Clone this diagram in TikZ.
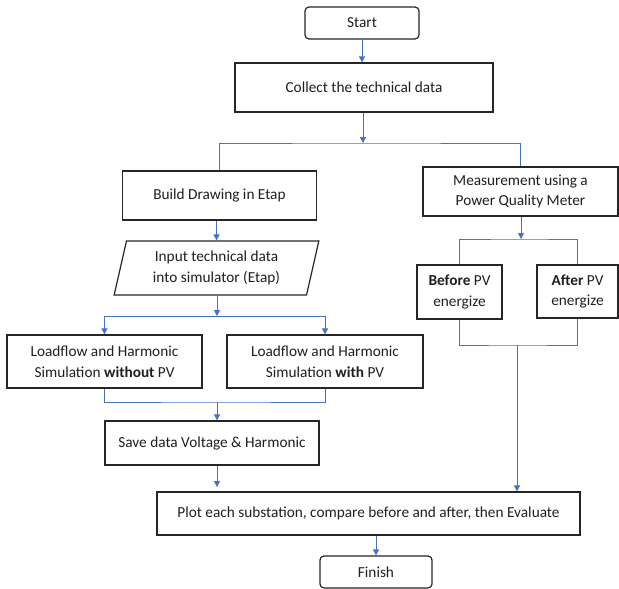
\documentclass[tikz,border=0pt]{standalone}
\usepackage{fontspec}
\setmainfont{Carlito}
\usetikzlibrary{arrows.meta,shapes.geometric}
\definecolor{lineblue}{HTML}{4472C4}
\definecolor{brd}{HTML}{262626}
\begin{document}
\begin{tikzpicture}[x=1pt,y=-1pt,
  box/.style={draw=brd,line width=1.2pt,inner sep=0pt,align=center,font=\fontsize{15.3}{20.5}\selectfont,text=black!88},
  rbox/.style={box,rounded corners=4pt},
  link/.style={draw=lineblue,line width=0.75pt},
  arr/.style={link,-{Triangle[width=6pt,length=6pt]}}]
\useasboundingbox[fill=white] (0,0) rectangle (619,589);
% nodes
\node[rbox,minimum width=114pt,minimum height=32pt] (start) at (362,23) {Start};
\node[box,minimum width=258pt,minimum height=49pt] (collect) at (364,87.5) {Collect the technical data};
\node[box,minimum width=194pt,minimum height=49pt] (build) at (219.5,195.5) {Build Drawing in Etap};
\node[box,minimum width=195pt,minimum height=49pt] (meas) at (520.5,191.5) {Measurement using a\\Power Quality Meter};
\node[box,trapezium,trapezium left angle=75.5,trapezium right angle=104.5,trapezium stretches=true,minimum width=205pt,minimum height=54pt] (input) at (216.5,268) {Input technical data\\into simulator (Etap)};
\node[box,minimum width=195pt,minimum height=53pt] (lf1) at (104.5,361.5) {Loadflow and Harmonic\\Simulation \textbf{without} PV};
\node[box,minimum width=196pt,minimum height=53pt] (lf2) at (325,361.5) {Loadflow and Harmonic\\Simulation \textbf{with} PV};
\node[box,minimum width=214pt,minimum height=44pt] (save) at (212,443) {Save data Voltage \& Harmonic};
\node[box,minimum width=85pt,minimum height=54pt] (before) at (459.5,292) {\textbf{Before} PV\\energize};
\node[box,minimum width=81pt,minimum height=53pt] (after) at (577.5,291.5) {\textbf{After} PV\\energize};
\node[box,minimum width=423pt,minimum height=43pt] (plot) at (368.5,513.5) {Plot each substation, compare before and after, then Evaluate};
\node[rbox,minimum width=112pt,minimum height=32pt] (finish) at (376,572) {Finish};
% junctions
\coordinate (j1) at (363,143);
\coordinate (j2) at (217,316);
\coordinate (j3) at (217,402);
\coordinate (j4) at (521,239);
\coordinate (j5) at (517,345);
\coordinate (p1) at (217,487);
% connectors
\draw[arr] (start) -- (start |- collect.north);
\draw[arr] (j1 |- collect.south) -- (j1);
\draw[link] (build.north) |- (j1) -| (meas.north);
\draw[arr] (input.north |- build.south) -- (input.north);
\draw[arr] (j2 |- input.south) -- (j2);
\draw[link] (lf1.north |- j2) -- (lf2.north |- j2);
\draw[arr] (lf1.north |- j2) -- (lf1.north);
\draw[arr] (lf2.north |- j2) -- (lf2.north);
\draw[link] (lf1.south) |- (j3) -| (lf2.south);
\draw[arr] (j3) -- (j3 |- save.north);
\draw[arr] (p1 |- save.south) -- (p1);
\draw[arr] (j4 |- meas.south) -- (j4);
\draw[link] (before.north) |- (j4) -| (after.north);
\draw[link] (before.south) |- (j5) -| (after.south);
\draw[arr] (j5) -- (j5 |- plot.north);
\draw[arr] (finish.north |- plot.south) -- (finish.north);
\end{tikzpicture}
\end{document}
